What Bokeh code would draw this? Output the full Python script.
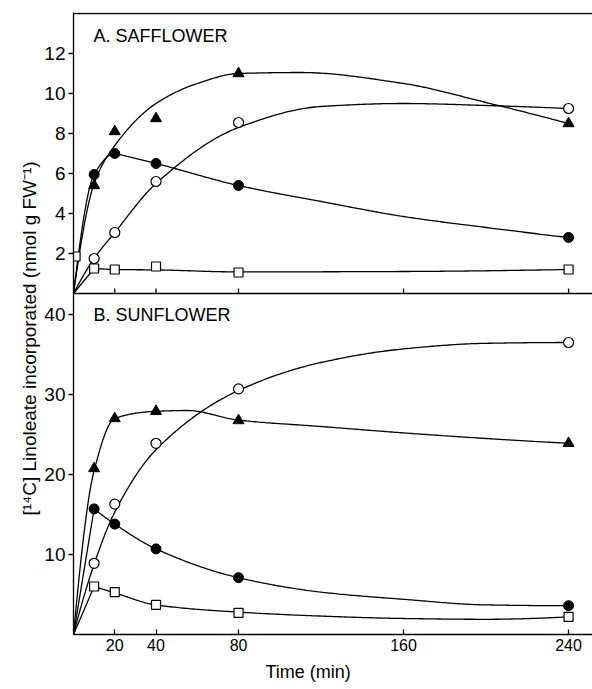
import numpy as np
from bokeh.plotting import figure
from bokeh.models import Range1d, FixedTicker, Span, Label, Title
from bokeh.embed import file_html
from bokeh.resources import INLINE

# ---------------- data ----------------
time = [10, 20, 40, 80, 240]            # min
time_sq_A = [1, 10, 20, 40, 80, 240]    # min (open squares, safflower)

# A. Safflower  (nmol g FW-1)
A_triangle = [5.4, 8.1, 8.75, 11.0, 8.5]
A_filled_circle = [5.95, 7.0, 6.5, 5.4, 2.8]
A_open_circle = [1.75, 3.05, 5.6, 8.55, 9.25]
A_open_square = [1.85, 1.25, 1.2, 1.35, 1.05, 1.2]

# B. Sunflower  (nmol g FW-1)
B_triangle = [20.75, 27.0, 27.9, 26.75, 23.9]
B_filled_circle = [15.7, 13.8, 10.7, 7.1, 3.6]
B_open_circle = [8.9, 16.3, 23.9, 30.7, 36.5]
B_open_square = [6.0, 5.3, 3.7, 2.7, 2.2]

# hand-drawn fitted curves: knots (pieces meet at corners)
curve_A_triangle = [([0, 10, 20, 40, 60, 80, 110, 160, 200, 240],
                     [0, 5.5, 7.4, 9.5, 10.5, 11.0, 11.05, 10.5, 9.55, 8.5])]
curve_A_filled = [([0, 10, 20], [0, 5.95, 7.0]),
                  ([20, 40, 80, 120, 160, 200, 240], [7.0, 6.5, 5.4, 4.6, 3.85, 3.3, 2.8])]
curve_A_open = [([0, 10, 20, 40, 80, 120, 160, 200, 240],
                 [0, 1.75, 3.05, 5.5, 8.3, 9.35, 9.5, 9.4, 9.25])]
curve_A_square = [([0, 10], [0, 1.25]),
                  ([10, 20, 40, 80, 160, 240], [1.25, 1.2, 1.18, 1.08, 1.1, 1.2])]

curve_B_triangle = [([0, 10, 20, 40, 55, 80, 120, 160, 200, 240],
                     [0, 20.5, 27.0, 27.9, 28.0, 26.8, 26.0, 25.2, 24.5, 23.9])]
curve_B_filled = [([0, 10], [0, 15.7]),
                  ([10, 20, 40, 80, 120, 160, 200, 240], [15.7, 13.8, 10.7, 7.1, 5.3, 4.4, 3.7, 3.6])]
curve_B_open = [([0, 10, 20, 40, 80, 120, 160, 200, 240],
                 [0, 8.8, 15.3, 23.1, 30.5, 34.0, 35.7, 36.4, 36.5])]
curve_B_square = [([0, 10], [0, 6.0]),
                  ([10, 20, 40, 80, 120, 160, 200, 240], [6.0, 5.2, 3.7, 2.8, 2.3, 2.0, 1.9, 2.2])]

x_ticks = [20, 40, 80, 160, 240]
y_ticks_A = [2, 4, 6, 8, 10, 12]
y_ticks_B = [10, 20, 30, 40]


# ---------------- smoothing (monotone cubic through the knots) ----------------
def pchip(xk, yk, n=40):
    xk = np.asarray(xk, float)
    yk = np.asarray(yk, float)
    if len(xk) == 2:
        return xk, yk
    h = np.diff(xk)
    d = np.diff(yk) / h
    k = len(xk)
    m = np.zeros(k)
    for i in range(1, k - 1):
        if d[i - 1] * d[i] > 0:
            w1 = 2 * h[i] + h[i - 1]
            w2 = h[i] + 2 * h[i - 1]
            m[i] = (w1 + w2) / (w1 / d[i - 1] + w2 / d[i])

    def end(h0, h1, d0, d1):
        mm = ((2 * h0 + h1) * d0 - h0 * d1) / (h0 + h1)
        if np.sign(mm) != np.sign(d0):
            mm = 0.0
        elif np.sign(d0) != np.sign(d1) and abs(mm) > abs(3 * d0):
            mm = 3 * d0
        return mm

    m[0] = end(h[0], h[1], d[0], d[1])
    m[-1] = end(h[-1], h[-2], d[-1], d[-2])
    xs, ys = [], []
    for i in range(k - 1):
        t = np.linspace(0, 1, n, endpoint=(i == k - 2))
        h00 = 2 * t**3 - 3 * t**2 + 1
        h10 = t**3 - 2 * t**2 + t
        h01 = -2 * t**3 + 3 * t**2
        h11 = t**3 - t**2
        xs.append(xk[i] + t * h[i])
        ys.append(h00 * yk[i] + h10 * h[i] * m[i] + h01 * yk[i + 1] + h11 * h[i] * m[i + 1])
    return np.concatenate(xs), np.concatenate(ys)


def curve(pieces):
    xs, ys = [], []
    for xk, yk in pieces:
        x, y = pchip(xk, yk)
        xs.append(x)
        ys.append(y)
    return np.concatenate(xs), np.concatenate(ys)


# ---------------- figure ----------------
FONT = "Liberation Sans"

x_range = Range1d(0, 251.6)
y_range_B = Range1d(0, 77.75)          # bottom panel (sunflower) scale
y_range_A = Range1d(-17.05, 14.05)     # top panel (safflower) scale

p = figure(width=592, height=689, x_range=x_range, y_range=y_range_B,
           output_backend="svg", toolbar_location=None,
           min_border_left=73, min_border_right=0, min_border_top=12, min_border_bottom=55)
p.extra_y_ranges = {"A": y_range_A}
p.outline_line_color = None
p.xgrid.visible = False
p.ygrid.visible = False
p.background_fill_color = "white"


def to_B(v):
    """position of a safflower-scale value on the sunflower scale"""
    return y_range_B.start + (v - y_range_A.start) * (y_range_B.end - y_range_B.start) / (y_range_A.end - y_range_A.start)


# y axis (shared left spine, ticks of both panels)
yax = p.yaxis[0]
a_ticks = [to_B(v) for v in y_ticks_A]
yax.ticker = FixedTicker(ticks=y_ticks_B + a_ticks)
yax.major_label_overrides = {t: str(v) for t, v in zip(a_ticks, y_ticks_A)}
yax.major_tick_in = 0
yax.major_tick_out = 5
yax.minor_tick_line_color = None
yax.major_label_standoff = 3
yax.major_label_text_font = FONT
yax.major_label_text_font_size = "19px"
yax.major_label_text_color = "black"
yax.axis_line_width = 1.3
yax.major_tick_line_width = 1.3

# x axis
xax = p.xaxis[0]
xax.ticker = FixedTicker(ticks=x_ticks)
xax.major_tick_in = 5
xax.major_tick_out = 0
xax.minor_tick_line_color = None
xax.major_label_standoff = 4
xax.major_label_text_font = FONT
xax.major_label_text_font_size = "16px"
xax.major_label_text_color = "black"
xax.axis_line_width = 1.3
xax.major_tick_line_width = 1.3

# axis titles placed in the side panels
p.add_layout(Title(text="Time (min)", align="left", offset=192, standoff=12,
                   text_font=FONT, text_font_size="18px", text_font_style="normal",
                   text_color="black"), "below")
p.add_layout(Title(text="[\u00b9\u2074C] Linoleate incorporated (nmol g FW\u207b\u00b9)",
                   align="left", offset=119, standoff=4,
                   text_font=FONT, text_font_size="19px", text_font_style="normal",
                   text_color="black"), "left")

# panel frame lines: top of panel A and separator with upward ticks
p.add_layout(Span(location=14, dimension="width", y_range_name="A", line_color="black", line_width=1.3))
p.add_layout(Span(location=0, dimension="width", y_range_name="A", line_color="black", line_width=1.3))
p.ray(x=x_ticks, y=[0] * len(x_ticks), length=5, length_units="screen", angle=np.pi / 2,
      y_range_name="A", line_color="black", line_width=1.3)

LW = 1.3
# ----- panel A -----
for pieces in (curve_A_triangle, curve_A_filled, curve_A_open, curve_A_square):
    cx, cy = curve(pieces)
    p.line(cx, cy, y_range_name="A", line_color="black", line_width=LW)
p.scatter(time, A_triangle, marker="triangle", size=11, y_range_name="A",
          fill_color="black", line_color="black")
p.scatter(time, A_filled_circle, marker="circle", size=10, y_range_name="A",
          fill_color="black", line_color="black")
p.scatter(time, A_open_circle, marker="circle", size=10, y_range_name="A",
          fill_color="white", line_color="black", line_width=1.2)
p.scatter(time_sq_A, A_open_square, marker="square", size=9, y_range_name="A",
          fill_color="white", line_color="black", line_width=1.2)

# ----- panel B -----
for pieces in (curve_B_triangle, curve_B_filled, curve_B_open, curve_B_square):
    cx, cy = curve(pieces)
    p.line(cx, cy, line_color="black", line_width=LW)
p.scatter(time, B_triangle, marker="triangle", size=11, fill_color="black", line_color="black")
p.scatter(time, B_filled_circle, marker="circle", size=10, fill_color="black", line_color="black")
p.scatter(time, B_open_circle, marker="circle", size=10, fill_color="white", line_color="black", line_width=1.2)
p.scatter(time, B_open_square, marker="square", size=9, fill_color="white", line_color="black", line_width=1.2)

# ----- panel titles -----
p.add_layout(Label(x=9.7, y=12.9, y_range_name="A", text="A. SAFFLOWER", text_font=FONT,
                   text_font_size="18px", text_baseline="middle", text_align="left", text_color="black"))
p.add_layout(Label(x=9.7, y=40, text="B. SUNFLOWER", text_font=FONT,
                   text_font_size="18px", text_baseline="middle", text_align="left", text_color="black"))

open("out.html", "w").write(file_html(p, INLINE))
